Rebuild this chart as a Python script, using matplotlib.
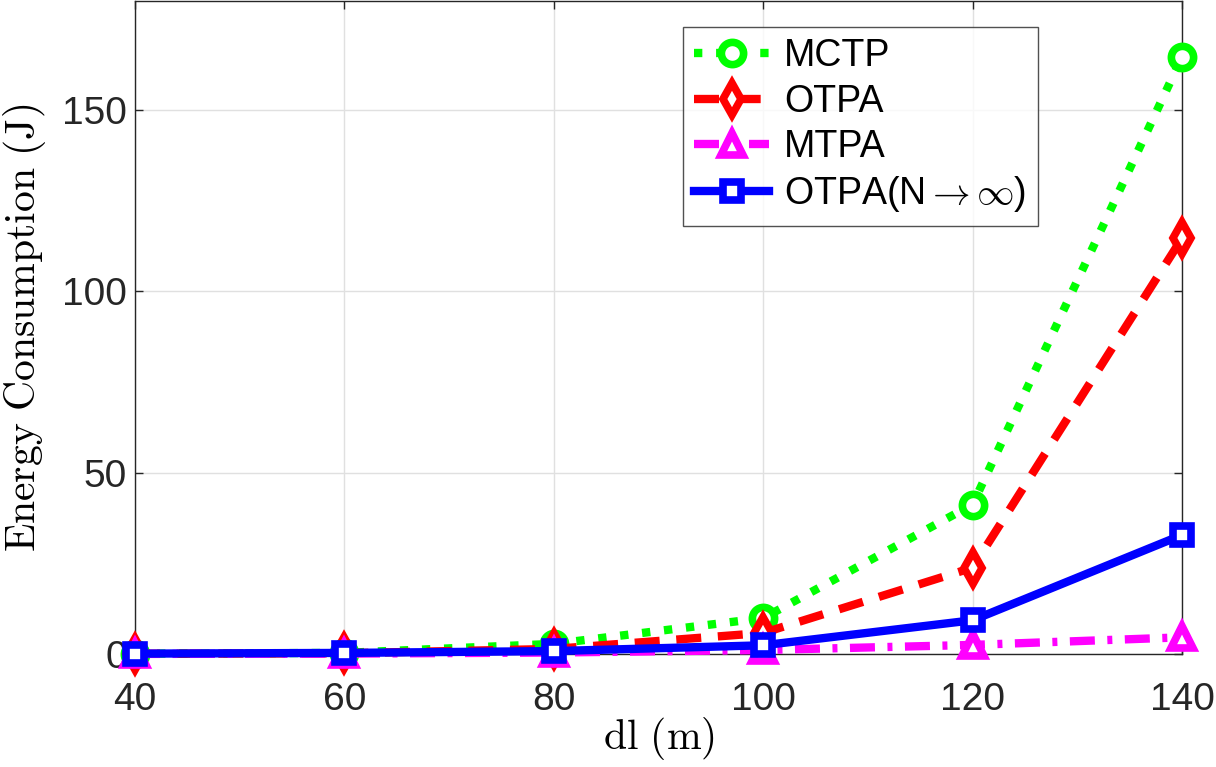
import matplotlib
matplotlib.use("Agg")
from matplotlib import pyplot as plt

# 데이터
dl = [40, 60, 80, 100, 120, 140]
mctp = [0.1, 0.3, 2.8, 9.9, 41.2, 164.6]
otpa = [0.05, 0.2, 1.4, 5.8, 23.8, 114.6]
mtpa = [0.02, 0.1, 0.4, 1.1, 2.5, 4.6]
otpa_inf = [0.1, 0.3, 0.8, 2.4, 9.3, 32.8]

plt.rcParams['font.family'] = ['Liberation Sans', 'DejaVu Sans']
plt.rcParams['mathtext.fontset'] = 'cm'

fig = plt.figure(figsize=(12.16, 7.67), dpi=100)
ax = fig.add_axes([135/1216, 1 - 654/767, (1182-135)/1216, (654-1)/767])

lw = 6
ms = 16
mew = 5.5
ax.plot(dl, mctp, ':', color='#00ff00', lw=lw, marker='o', ms=ms, mew=mew,
        mfc='white', label='MCTP', zorder=3, clip_on=False)
ax.plot(dl, otpa, '--', color='#ff0000', lw=lw, marker='d', ms=ms, mew=mew,
        mfc='white', label='OTPA', zorder=4, dashes=(3, 2), clip_on=False)
ax.plot(dl, mtpa, '-.', color='#ff00ff', lw=lw, marker='^', ms=ms, mew=mew,
        mfc='white', label='MTPA', zorder=5, dashes=(3, 1.5, 0.6, 1.5),
        clip_on=False)
ax.plot(dl, otpa_inf, '-', color='#0000ff', lw=lw, marker='s', ms=13, mew=mew,
        mfc='white', label=r'OTPA(N$\rightarrow\infty$)', zorder=6, clip_on=False)

ax.set_xlim(40, 140)
ax.set_ylim(0, 180)
ax.set_xticks([40, 60, 80, 100, 120, 140])
ax.set_yticks([0, 50, 100, 150])
ax.grid(True, color='#e0e0e0', lw=1)
ax.set_axisbelow(True)
ax.tick_params(direction='in', labelsize=28, length=6, width=1, colors='#262626',
               top=True, right=True, labelcolor='#262626')
ax.tick_params(axis='x', pad=20)
ax.tick_params(axis='y', pad=6)
for s in ax.spines.values():
    s.set_color('#262626')
    s.set_linewidth(1)

ax.set_xlabel(r'$\mathrm{dl\ (m)}$', fontsize=30, labelpad=-2)
ax.set_ylabel(r'$\mathrm{Energy\ Consumption\ (J)}$', fontsize=30, labelpad=10)

leg = ax.legend(loc='upper left', bbox_to_anchor=(548/1047, 0.96), fontsize=27,
                frameon=True, fancybox=False, edgecolor='#262626',
                handlelength=2.0, handletextpad=0.4, borderpad=0.3,
                labelspacing=0.25, borderaxespad=0)
leg.get_frame().set_linewidth(1)

fig.savefig('out.png', dpi=100)
